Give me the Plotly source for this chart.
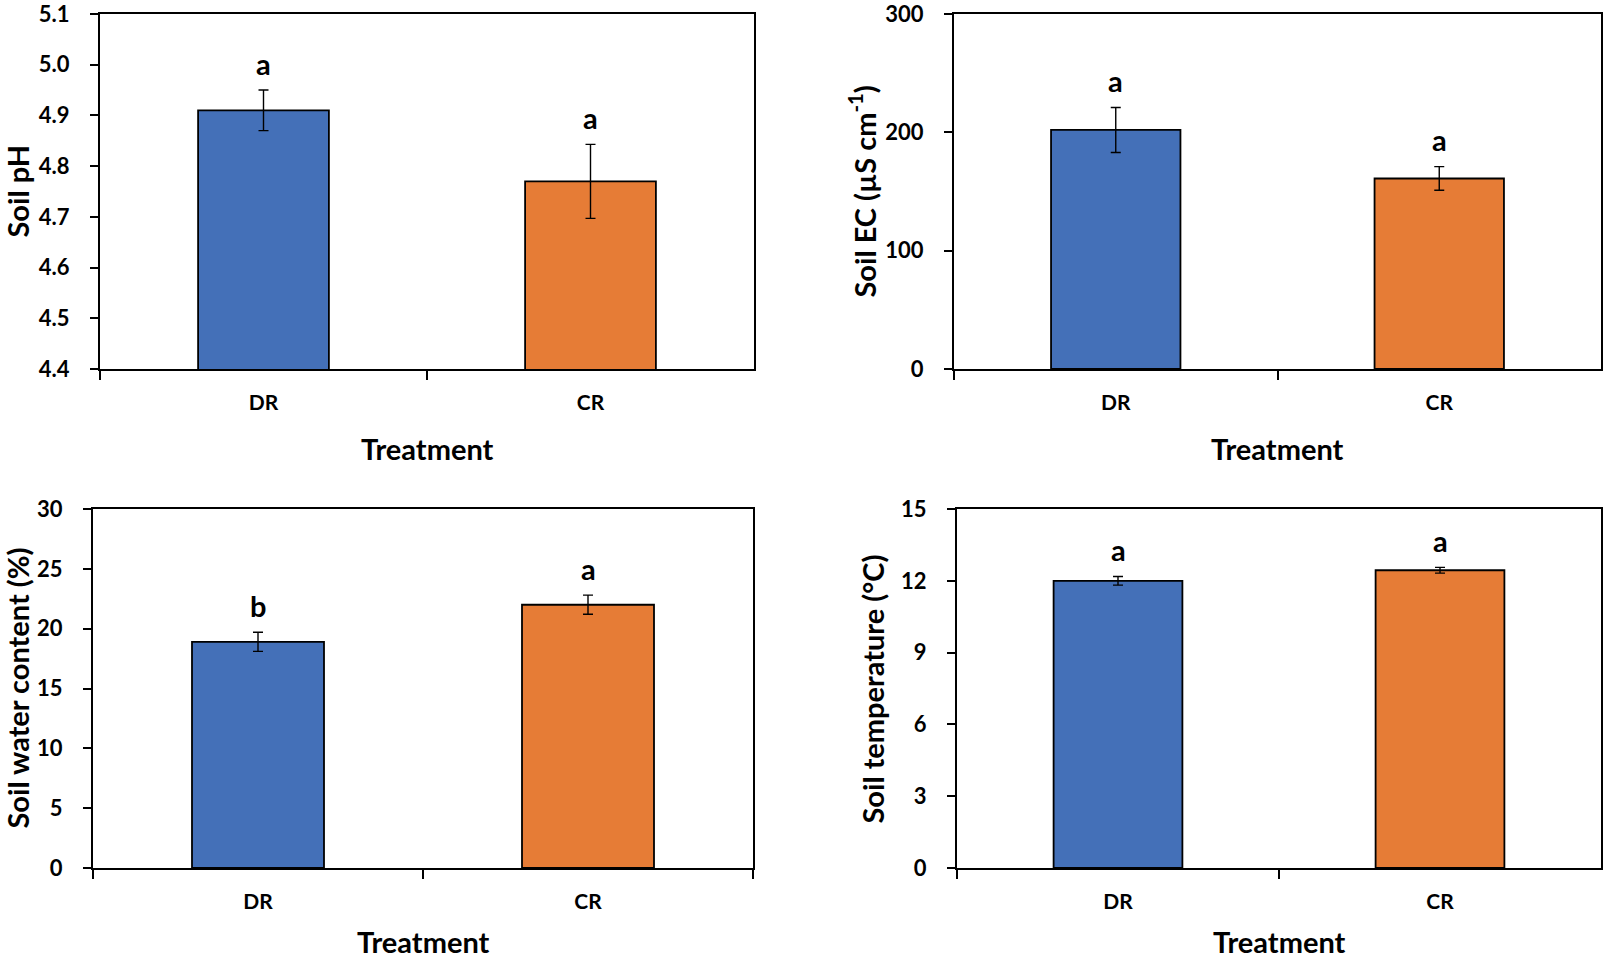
import plotly.graph_objects as go

categories = ["DR", "CR"]

ph_mean = [4.91, 4.77]
ph_err = [0.04, 0.073]
ph_letters = ["a", "a"]

ec_mean = [202, 161]
ec_err = [19, 10]
ec_letters = ["a", "a"]

swc_mean = [18.9, 22.0]
swc_err = [0.8, 0.8]
swc_letters = ["b", "a"]

temp_mean = [12.0, 12.44]
temp_err = [0.18, 0.12]
temp_letters = ["a", "a"]

bar_colors = ["#4470B8", "#E67C36"]

FONT = "Lato, 'Open Sans', Arial, sans-serif"
W, H = 1606, 960

# panel pixel boxes: (x0, x1, ytop, ybottom, x-title centre y)
panels = [
    dict(box=(100, 754, 14, 369), ttl_y=448, mean=ph_mean, err=ph_err, letters=ph_letters,
         yrange=[4.4, 5.1], dtick=0.1, fmt=".1f", title="Soil pH", tx=17),
    dict(box=(954, 1601, 14, 369), ttl_y=448, mean=ec_mean, err=ec_err, letters=ec_letters,
         yrange=[0, 300], dtick=100, fmt="d", title="Soil EC (µS cm<sup>-1</sup>)", tx=862),
    dict(box=(93, 753, 509, 868), ttl_y=941, mean=swc_mean, err=swc_err, letters=swc_letters,
         yrange=[0, 30], dtick=5, fmt="d", title="Soil water content (%)", tx=17),
    dict(box=(957, 1601, 509, 868), ttl_y=941, mean=temp_mean, err=temp_err, letters=temp_letters,
         yrange=[0, 15], dtick=3, fmt="d", title="Soil temperature (°C)", tx=872),
]

fig = go.Figure()
annotations = []
layout_axes = {}

for i, p in enumerate(panels, start=1):
    x0, x1, yt, yb = p["box"]
    xa = "x" if i == 1 else f"x{i}"
    ya = "y" if i == 1 else f"y{i}"
    xkey = "xaxis" if i == 1 else f"xaxis{i}"
    ykey = "yaxis" if i == 1 else f"yaxis{i}"

    fig.add_trace(go.Bar(
        x=categories, y=p["mean"], width=0.4,
        marker=dict(color=bar_colors, line=dict(color="#000000", width=1.8)),
        error_y=dict(type="data", array=p["err"], visible=True,
                     color="#000000", thickness=1.4, width=5),
        xaxis=xa, yaxis=ya, showlegend=False,
    ))

    layout_axes[xkey] = dict(
        domain=[x0 / W, x1 / W], anchor=ya, type="category", automargin=False,
        tickson="boundaries", ticks="outside", ticklen=9, tickwidth=1.5,
        tickcolor="#000000", showline=True, linecolor="#000000", linewidth=2,
        mirror=True, showgrid=False, zeroline=False, ticklabeloverflow="allow",
        tickfont=dict(family=FONT, size=21, color="#000000", weight="bold"),
        ticklabelstandoff=14, range=[-0.5, 1.5],
    )
    layout_axes[ykey] = dict(
        domain=[1 - yb / H, 1 - yt / H], anchor=xa, automargin=False,
        range=p["yrange"], dtick=p["dtick"], tick0=p["yrange"][0],
        tickformat=p["fmt"], ticks="outside", ticklen=8, tickwidth=1.5,
        tickcolor="#000000", showline=True, linecolor="#000000", linewidth=2,
        mirror=True, showgrid=False, zeroline=False, ticklabeloverflow="allow",
        tickfont=dict(family=FONT, size=22, color="#000000", weight="bold"),
        ticklabelstandoff=16,
    )

    # y-axis title
    annotations.append(dict(
        text=p["title"], xref="paper", yref="paper",
        x=p["tx"] / W, y=1 - ((yt + yb) / 2) / H, textangle=-90,
        showarrow=False, xanchor="center", yanchor="middle",
        font=dict(family=FONT, size=29, color="#000000", weight="bold"),
    ))
    # x-axis title
    annotations.append(dict(
        text="Treatment", xref="paper", yref="paper",
        x=((x0 + x1) / 2) / W, y=1 - p["ttl_y"] / H,
        showarrow=False, xanchor="center", yanchor="middle",
        font=dict(family=FONT, size=29, color="#000000", weight="bold"),
    ))
    # significance letters
    for c, m, e, L in zip(categories, p["mean"], p["err"], p["letters"]):
        annotations.append(dict(
            text=L, x=c, y=m + e, xref=xa, yref=ya,
            showarrow=False, xanchor="center", yanchor="middle", yshift=27,
            font=dict(family=FONT, size=29, color="#000000", weight="bold"),
        ))

fig.update_layout(
    width=W, height=H, margin=dict(l=0, r=0, t=0, b=0),
    paper_bgcolor="white", plot_bgcolor="white",
    annotations=annotations, bargap=0.6,
    **layout_axes,
)

fig.write_html("out.html")
